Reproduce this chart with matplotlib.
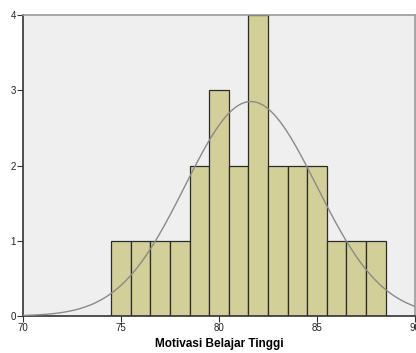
import matplotlib
matplotlib.use("Agg")
import matplotlib.pyplot as plt
import numpy as np

plt.rcParams['font.family'] = ['Liberation Sans', 'DejaVu Sans']

scores = [75, 76, 77, 78, 79, 80, 81, 82, 83, 84, 85, 86, 87, 88]
counts = [1, 1, 1, 1, 2, 3, 2, 4, 2, 2, 2, 1, 1, 1]
x_ticks = [70, 75, 80, 85, 90]
y_ticks = [0, 1, 2, 3, 4]
x_label = "Motivasi Belajar Tinggi"

scores_arr = np.array(scores, dtype=float)
counts_arr = np.array(counts, dtype=float)
n = counts_arr.sum()
mean = (scores_arr * counts_arr).sum() / n
sd = np.sqrt(((scores_arr - mean) ** 2 * counts_arr).sum() / (n - 1))

fig = plt.figure(figsize=(4.16, 3.53), dpi=100)
ax = fig.add_axes([23 / 416, 1 - 316 / 353, 392 / 416, 301 / 353])
ax.set_facecolor('#efefef')

ax.bar(scores_arr, counts_arr, width=1.0, color='#d3cf98',
       edgecolor='#2b2b2b', linewidth=0.9, zorder=2)

xs = np.linspace(70, 90, 400)
ys = n * 1.0 / (sd * np.sqrt(2 * np.pi)) * np.exp(-0.5 * ((xs - mean) / sd) ** 2)
ax.plot(xs, ys, color='#8a8a8a', linewidth=1.0, zorder=3)

ax.set_xlim(70, 90)
ax.set_ylim(0, 4)
ax.set_xticks(x_ticks)
ax.set_yticks(y_ticks)
ax.tick_params(axis='both', labelsize=7, length=4, width=0.8, color='#333333',
               pad=1, labelcolor='#222222')

for side in ['left', 'bottom']:
    ax.spines[side].set_color('#333333')
    ax.spines[side].set_linewidth(1.2)
for side in ['top', 'right']:
    ax.spines[side].set_color('#999999')
    ax.spines[side].set_linewidth(1.2)

ax.set_xlabel(x_label, fontsize=8.5, fontweight='bold', labelpad=4)

fig.savefig('out.png', dpi=100)
